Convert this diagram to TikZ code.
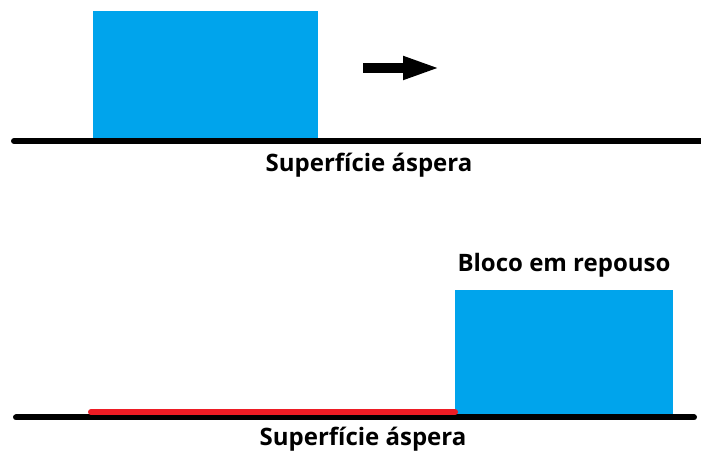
\documentclass[tikz,border=0pt]{standalone}
\usepackage{fontspec}
\setmainfont{Open Sans}
\usetikzlibrary{arrows.meta,positioning}
\definecolor{blockblue}{RGB}{0,164,236}
\definecolor{trackred}{RGB}{237,28,36}

\begin{document}
\begin{tikzpicture}[x=1pt,y=1pt,
  block/.style={fill=blockblue,draw=none,inner sep=0,anchor=south west},
  ground/.style={line width=6pt,line cap=round},
  lbl/.style={font=\fontsize{24}{28}\selectfont\bfseries,inner sep=0,anchor=base},
  push/.style={line width=10pt,-{Triangle[length=38pt,width=21pt]}}]
\useasboundingbox (0,0) rectangle (701,454);

% ---- top : block sliding
\node[block,minimum width=225pt,minimum height=127pt] (blkA) at (93,316) {};
\coordinate (gA1) at (14,313);
\coordinate (gA2) at (704,313);
\draw[ground] (gA1)--(gA2);
\coordinate (pA1) at (363,386);
\coordinate (pA2) at (441,386);
\draw[push] (pA1)--(pA2);
\node[lbl] (txtA) at (369,282) {Superfície áspera};

% ---- bottom : block at rest
\node[block,minimum width=218pt,minimum height=124pt] (blkB) at (455,40) {};
\coordinate (gB1) at (16,36.5);
\coordinate (gB2) at (694,36.5);
\coordinate (rB1) at (91,42);
\coordinate (rB2) at (455,42);
\draw[ground] (gB1)--(gB2);
\draw[line width=6pt,line cap=round,trackred] (rB1)--(rB2);
\node[lbl] (txtB) at (363,8) {Superfície áspera};
\node[lbl] (rest) at (564,182) {Bloco em repouso};
\end{tikzpicture}
\end{document}
